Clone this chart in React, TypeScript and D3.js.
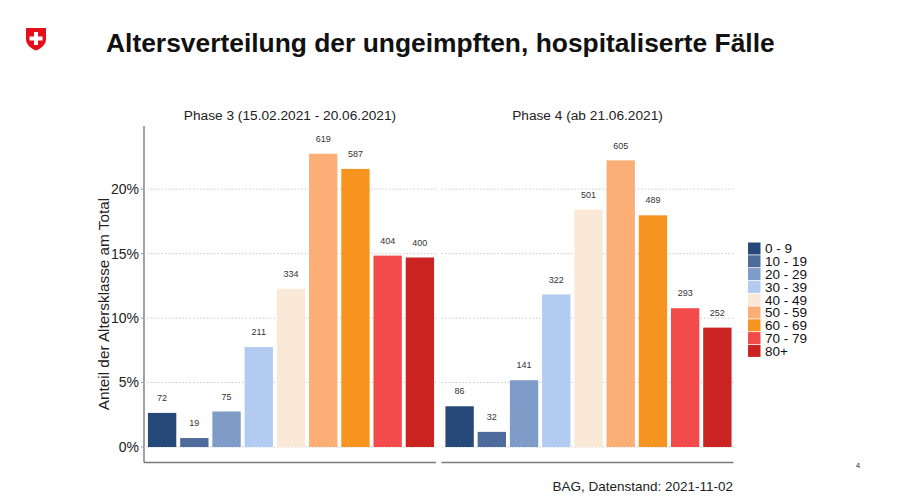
import * as d3 from 'd3';

// Age classes and counts of unvaccinated hospitalised cases per phase
const ageClasses = ['0 - 9', '10 - 19', '20 - 29', '30 - 39', '40 - 49', '50 - 59', '60 - 69', '70 - 79', '80+'];
const phase3Counts = [72, 19, 75, 211, 334, 619, 587, 404, 400];
const phase4Counts = [86, 32, 141, 322, 501, 605, 489, 293, 252];
const panelTitles = ['Phase 3 (15.02.2021 - 20.06.2021)', 'Phase 4 (ab 21.06.2021)'];
const yTicks = [0, 5, 10, 15, 20];
const colors = ['#26497a', '#4d6c9c', '#7f9bc8', '#b3cbf1', '#fbe9d7', '#fbaf76', '#f7931f', '#f34b4c', '#cb2222'];

const W = 900;
const H = 503;
const FONT = '"Liberation Sans", Arial, sans-serif';

export default function App() {
  const y = d3.scaleLinear().domain([-1.2, 24.9]).range([462.5, 126]);
  const color = d3.scaleOrdinal<string, string>().domain(ageClasses).range(colors);

  const panels = [
    { title: panelTitles[0], counts: phase3Counts, x0: 144, x1: 436 },
    { title: panelTitles[1], counts: phase4Counts, x0: 441.5, x1: 733.5 },
  ];

  return (
    <svg
      width={W}
      height={H}
      style={{ position: 'absolute', left: 0, top: 0, background: '#ffffff' }}
      fontFamily={FONT}
    >
      <rect width={W} height={H} fill="#ffffff" />

      {/* Swiss shield */}
      <g transform="translate(26,28)">
        <path d="M0,0 H20 V11 C20,17 15,20.5 10,22.5 C5,20.5 0,17 0,11 Z" fill="#e3101a" />
        <rect x={8} y={4} width={4} height={13} fill="#fff" />
        <rect x={3.5} y={8.5} width={13} height={4} fill="#fff" />
      </g>

      <text x={106} y={52} fontSize={26.4} fontWeight="bold" fill="#111">
        Altersverteilung der ungeimpften, hospitaliserte Fälle
      </text>

      {/* y axis */}
      <line x1={144} x2={144} y1={126} y2={462.5} stroke="#7a7a7a" strokeWidth={1.4} />
      {yTicks.map((t) => (
        <g key={t}>
          <line x1={141} x2={144} y1={y(t)} y2={y(t)} stroke="#9a9a9a" strokeWidth={1} />
          <text x={139} y={y(t)} dy="0.35em" textAnchor="end" fontSize={14} fill="#222">
            {t}%
          </text>
        </g>
      ))}
      <text
        transform="translate(109,304) rotate(-90)"
        textAnchor="middle"
        fontSize={15.3}
        fill="#222"
      >
        Anteil der Altersklasse am Total
      </text>

      {panels.map((p) => {
        const x = d3.scaleBand<string>().domain(ageClasses).range([p.x0 + 2, p.x1]).paddingInner(0.12).paddingOuter(0.06);
        const total = d3.sum(p.counts);
        return (
          <g key={p.title}>
            <text x={(p.x0 + p.x1) / 2} y={115} dy="0.35em" textAnchor="middle" fontSize={13.7} fill="#222">
              {p.title}
            </text>
            {yTicks.map((t) => (
              <line
                key={t}
                x1={p.x0}
                x2={p.x1}
                y1={y(t)}
                y2={y(t)}
                stroke="#c8c8c8"
                strokeWidth={1}
                strokeDasharray="1.5,2"
              />
            ))}
            {ageClasses.map((a, i) => {
              const v = (p.counts[i] / total) * 100;
              return (
                <g key={a}>
                  <rect
                    x={x(a)}
                    y={y(v)}
                    width={x.bandwidth()}
                    height={y(0) - y(v)}
                    fill={color(a)}
                  />
                  <text
                    x={(x(a) ?? 0) + x.bandwidth() / 2}
                    y={y(v) - 15}
                    dy="0.35em"
                    textAnchor="middle"
                    fontSize={9}
                    fill="#333"
                  >
                    {p.counts[i]}
                  </text>
                </g>
              );
            })}
            <line x1={p.x0} x2={p.x1} y1={462.5} y2={462.5} stroke="#7a7a7a" strokeWidth={1.4} />
          </g>
        );
      })}

      {/* legend */}
      {ageClasses.map((a, i) => (
        <g key={a} transform={`translate(748,${242.5 + i * 12.8})`}>
          <rect width={12.5} height={12} fill={color(a)} />
          <text x={17} y={6.2} dy="0.35em" fontSize={13.5} fill="#111">
            {a}
          </text>
        </g>
      ))}

      <text x={733} y={486} dy="0.35em" textAnchor="end" fontSize={13.5} fill="#222">
        BAG, Datenstand: 2021-11-02
      </text>
      <text x={858} y={465} dy="0.35em" textAnchor="middle" fontSize={8} fill="#333">
        4
      </text>
    </svg>
  );
}
